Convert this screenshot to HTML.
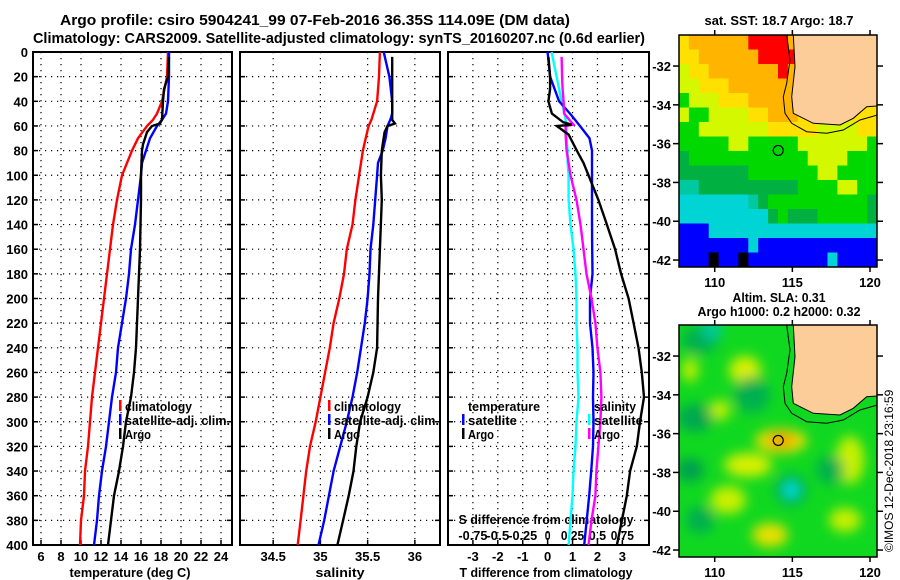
<!DOCTYPE html>
<html><head><meta charset="utf-8">
<style>
html,body{margin:0;padding:0;background:#fff;}
svg{display:block;font-family:"Liberation Sans",sans-serif;font-weight:bold;}
</style></head>
<body>
<svg id="fig" width="900" height="580" viewBox="0 0 900 580" xmlns="http://www.w3.org/2000/svg">
<defs><filter id="blur" x="-50%" y="-50%" width="200%" height="200%"><feGaussianBlur stdDeviation="6"/></filter>
<clipPath id="clipTop"><rect x="679" y="35" width="198" height="232"/></clipPath>
<clipPath id="clipBot"><rect x="679" y="325" width="198" height="232"/></clipPath></defs>
<text x="315" y="25" text-anchor="middle" font-size="15" textLength="510" lengthAdjust="spacingAndGlyphs">Argo profile: csiro 5904241_99 07-Feb-2016 36.35S 114.09E (DM data)</text>
<text x="339" y="43" text-anchor="middle" font-size="15" textLength="612" lengthAdjust="spacingAndGlyphs">Climatology: CARS2009. Satellite-adjusted climatology: synTS_20160207.nc (0.6d earlier)</text>
</svg>
<script>
// ---------- data ----------
const depthTicks = [0,20,40,60,80,100,120,140,160,180,200,220,240,260,280,300,320,340,360,380,400];
const tempTicks = [6,8,10,12,14,16,18,20,22,24];
const salTicks = [34.5,35,35.5,36];
const salTickLabels = ["34.5","35","35.5","36"];
const tdiffTicks = [-3,-2,-1,0,1,2,3];
const sdiffTickLabels = ["-0.75","-0.5","-0.25","0","0.25","0.5","0.75"];

const climDepth = [0,20,40,50,55,60,70,80,100,120,140,160,180,200,220,240,260,280,300,320,340,360,380,400];
const climT = [18.7,18.6,18.1,17.6,17.2,16.6,15.7,15.1,14.1,13.6,13.2,12.9,12.6,12.3,12.0,11.7,11.4,11.1,10.9,10.7,10.4,10.3,10.0,9.9];
const climS = [35.63,35.62,35.60,35.56,35.54,35.51,35.48,35.45,35.41,35.37,35.34,35.28,35.25,35.20,35.14,35.10,35.05,35.00,34.95,34.89,34.85,34.82,34.79,34.76];

const satDepth = [0,20,40,50,55,60,70,80,90,100,120,140,160,180,200,220,240,260,280,300,320,340,360,380,400];
const satT = [18.8,18.8,18.7,18.5,18.1,17.6,16.9,16.5,16.1,16.0,15.7,15.4,15.0,14.8,14.5,14.1,13.7,13.5,13.1,12.8,12.5,12.1,11.8,11.6,11.3];
const satS = [35.67,35.73,35.76,35.76,35.74,35.71,35.69,35.66,35.61,35.60,35.58,35.56,35.53,35.52,35.50,35.47,35.43,35.39,35.34,35.28,35.21,35.14,35.09,35.04,34.98];
const satTdiff = [0.0,0.1,0.46,0.9,1.1,1.3,1.68,1.78,1.78,1.78,1.78,1.78,1.79,1.8,1.7,1.7,1.8,1.84,1.82,1.84,1.82,1.75,1.67,1.57,1.47];
const satSdiff = [0.04,0.09,0.14,0.17,0.18,0.19,0.19,0.2,0.2,0.21,0.21,0.23,0.26,0.28,0.29,0.29,0.3,0.3,0.31,0.29,0.28,0.26,0.25,0.23,0.21];

const argoDepth = [4,20,30,40,55,58,60,65,75,80,100,120,160,200,240,260,280,300,320,340,360,380,400];
const argoT = [18.8,18.7,18.3,18.2,18.1,17.9,17.1,16.6,16.2,16.1,16.0,16.0,15.9,15.7,15.5,15.3,15.0,14.5,14.2,13.8,13.3,13.0,12.7];
const argoS = [35.76,35.76,35.76,35.76,35.76,35.79,35.71,35.68,35.66,35.65,35.64,35.65,35.63,35.61,35.60,35.56,35.50,35.42,35.38,35.35,35.30,35.24,35.18];

const argoDiffDepth = [4,20,30,40,50,57,59,60,67,80,90,100,120,140,160,180,200,220,240,260,280,300,320,340,360,380,400];
const argoTdiff = [0.03,0.1,0.1,0.03,0.17,0.63,0.97,0.37,0.84,1.17,1.44,1.64,2.04,2.38,2.71,2.95,3.25,3.45,3.65,3.78,3.87,3.71,3.58,3.31,3.18,2.98,2.78];
const argoSdiff = [0.14,0.145,0.15,0.16,0.165,0.24,0.26,0.18,0.18,0.19,0.21,0.23,0.29,0.33,0.36,0.39,0.44,0.48,0.5,0.53,0.54,0.53,0.51,0.49,0.48,0.44,0.41];

const latTicks = [-32,-34,-36,-38,-40,-42];
const lonTicks = [110,115,120];
const argoLon = 114.09, argoLat = -36.35;

// ---------- helpers ----------
const NS = "http://www.w3.org/2000/svg";
const svg = document.getElementById("fig");
function mk(tag, attrs, parent){
  const e = document.createElementNS(NS, tag);
  for (const k in attrs) e.setAttribute(k, attrs[k]);
  (parent||svg).appendChild(e);
  return e;
}
function txt(x,y,s,size,anchor,parent,len){
  const a = {x:x,y:y,"font-size":size,"text-anchor":anchor||"start"};
  if(len){ a.textLength = len; a.lengthAdjust = "spacingAndGlyphs"; }
  const t = mk("text",a,parent);
  t.textContent = s;
  return t;
}
const Y0 = 52, Y1 = 545;
function yD(d){ return Y0 + d*(Y1-Y0)/400; }

function panel(x0,x1,xmin,xmax,ticks,name){
  const xf = v => x0 + (v-xmin)*(x1-x0)/(xmax-xmin);
  const g = mk("g",{});
  
  
  ticks.forEach(v=>{
    const l = mk("line",{x1:xf(v),x2:xf(v),y1:Y0,y2:Y1,stroke:"#000","stroke-width":1.2,"stroke-dasharray":"1.2 4.8"},g);
    
    
    mk("line",{x1:xf(v),x2:xf(v),y1:Y1,y2:Y1-5,stroke:"#000","stroke-width":1.5},g);
  });
  depthTicks.forEach(d=>{
    const l = mk("line",{x1:x0,x2:x1,y1:yD(d),y2:yD(d),stroke:"#000","stroke-width":1.2,"stroke-dasharray":"1.2 4.8"},g);
    
    
    mk("line",{x1:x0,x2:x0+5,y1:yD(d),y2:yD(d),stroke:"#000","stroke-width":1.5},g);
    mk("line",{x1:x1,x2:x1-5,y1:yD(d),y2:yD(d),stroke:"#000","stroke-width":1.5},g);
  });
  const r = mk("rect",{x:x0,y:Y0,width:x1-x0,height:Y1-Y0,fill:"none",stroke:"#000","stroke-width":2},g);
  
  
  return xf;
}
function series(xf,depths,vals,color,name){
  const pts = depths.map((d,i)=> xf(vals[i]).toFixed(1)+","+yD(d).toFixed(1)).join(" ");
  const p = mk("polyline",{points:pts,fill:"none",stroke:color,"stroke-width":2.4,"stroke-linejoin":"miter"});
  
  
}
function legend(x,y,color,label,name,len){
  if(color){
    const m = mk("rect",{x:x-6,y:y-11,width:2.5,height:11,fill:color});
    
    
  }
  const t = txt(x,y,label,13,"start",null,len);
  
  
}

// ---------- panel 1: temperature ----------
const xT = panel(33,232,5.2,25.1,tempTicks,"temperature-panel");
depthTicks.forEach(d=>{
  const t = txt(28,yD(d)+5,String(d),13,"end");
  
  
});
tempTicks.forEach(v=>{
  const t = txt(xT(v),561,String(v),13,"middle");
  
  
});
{const t = txt(130,577,"temperature (deg C)",13,"middle",null,121);

}
series(xT,climDepth,climT,"#ff0000","temp-climatology-line");
series(xT,satDepth,satT,"#0000ff","temp-satellite-line");
series(xT,argoDepth,argoT,"#000000","temp-argo-line");
legend(125,411,"#ff0000","climatology","legend-climatology-temp",67);
legend(125,425,"#0000ff","satellite-adj. clim.","legend-satellite-temp",105);
legend(125,439,"#000000","Argo","legend-argo-temp",26);

// ---------- panel 2: salinity ----------
const xS = panel(240,440,34.149,36.266,salTicks,"salinity-panel");
salTicks.forEach((v,i)=>{
  const t = txt(xS(v),561,salTickLabels[i],13,"middle");
  
  
});
{const t = txt(340,577,"salinity",13,"middle",null,49);

}
series(xS,climDepth,climS,"#ff0000","sal-climatology-line");
series(xS,satDepth,satS,"#0000ff","sal-satellite-line");
series(xS,argoDepth,argoS,"#000000","sal-argo-line");
legend(334,411,"#ff0000","climatology","legend-climatology-sal",67);
legend(334,425,"#0000ff","satellite-adj. clim.","legend-satellite-sal",105);
legend(334,439,"#000000","Argo","legend-argo-sal",26);

// ---------- panel 3: differences ----------
const xD = panel(448,649,-4.0,4.07,tdiffTicks,"difference-panel");
const xSD = v => xD(v*4);
tdiffTicks.forEach(v=>{
  const t = txt(xD(v),561,String(v),13,"middle");
  
  
});
sdiffTickLabels.forEach((s,i)=>{
  const t = txt(xD(tdiffTicks[i]),540,s,13,"middle",null,s.length*5.8);
  
  
});
{const t = txt(546,524,"S difference from climatology",13,"middle",null,175);

}
{const t = txt(546,577,"T difference from climatology",13,"middle",null,173);

}
series(xSD,satDepth,satSdiff,"#00ffff","sal-diff-satellite-line");
series(xD,satDepth,satTdiff,"#0000ff","temp-diff-satellite-line");
series(xSD,argoDiffDepth,argoSdiff,"#ff00ff","sal-diff-argo-line");
series(xD,argoDiffDepth,argoTdiff,"#000000","temp-diff-argo-line");
legend(468,411,null,"temperature","legend-temperature-header",72);
legend(468,425,"#0000ff","satellite","legend-temp-diff-satellite",49);
legend(468,439,"#000000","Argo","legend-temp-diff-argo",26);
legend(594,411,null,"salinity","legend-salinity-header",42);
legend(594,425,"#00ffff","satellite","legend-sal-diff-satellite",49);
legend(594,439,"#ff00ff","Argo","legend-sal-diff-argo",26);

// ---------- maps ----------
const MX0=679, MX1=877, LON0=107.7, LON1=120.45, LAT0=-30.4, PXLAT=19.4;
function mx(lon){ return MX0 + (lon-LON0)*(MX1-MX0)/(LON1-LON0); }
function my(lat,top){ return top + (LAT0-lat)*PXLAT; }
const sstRows = [
"YOOOOOORRRROOOOOOOOO",
"YYOOOOOORRRROOOOOOOO",
"LYYOOOOOOOROOOOOOOOO",
"LLYYYOOOOOOOYOOOOOOO",
"GLLLYYYOOOOOYYYYYYYY",
"LGGLLLLYYOOOYLLYYYYY",
"GGLLLLLLLYYYYYLLLLYY",
"GGGGGLLGGGGGLLLLLLLG",
"DGGGGGGGGGGGGLLLLGGG",
"DDDDDDDGGGGGGGLLGGGG",
"TTDDDDDDDDDDGGGGLLGG",
"CCCCCCCTDGGGGGGGGGGD",
"CCCCCCCCCDGDDDGGGGGD",
"BBBCCCCCCCCCCCCCCCCC",
"BBBBBBBCBBBBBBBBBBBB",
"BBBKBBKBBBBBBBBCBBBB"];
const pal = {O:"#ffb400",Y:"#ffe000",L:"#d4f800",G:"#00d800",D:"#00b040",T:"#00c8a0",C:"#00d4d4",B:"#0000ff",R:"#ff0000",K:"#000000"};
const landPts = [[793.3,0],[795,31.7],[791.7,61.7],[793.3,78.3],[813.3,88.3],[840,90],[853.3,83.3],[866.7,71.7],[877.3,71],[877.3,0]];
const contourPts = [[786.7,0],[790,25],[786.7,48.3],[783.3,61.7],[785,78.3],[791.7,88.3],[806.7,96.7],[826.7,98.3],[843.3,95],[860,85],[877.3,80]];

function mapFrame(top,name){
  const g = mk("g",{});
  
  
  return g;
}
function mapAxes(top,g){
  mk("rect",{x:MX0,y:top,width:MX1-MX0,height:232,fill:"none",stroke:"#000","stroke-width":1.5},g);
  latTicks.forEach(l=>{
    const y = my(l,top);
    mk("line",{x1:MX0-6,x2:MX0,y1:y,y2:y,stroke:"#000","stroke-width":1.5},g);
    mk("line",{x1:MX1,x2:MX1+6,y1:y,y2:y,stroke:"#000","stroke-width":1.5},g);
    const t = txt(MX0-8,y+5,String(l),13,"end",g);
    
    
  });
  lonTicks.forEach(l=>{
    const x = mx(l);
    mk("line",{x1:x,x2:x,y1:top-5,y2:top,stroke:"#000","stroke-width":1.5},g);
    mk("line",{x1:x,x2:x,y1:top+232,y2:top+237,stroke:"#000","stroke-width":1.5},g);
    const t = txt(x,top+252,String(l),13,"middle",g);
    
    
  });
}
function land(top,g){
  const lp = mk("polygon",{points:landPts.map(p=>p[0]+","+(p[1]+top)).join(" "),fill:"#fccc99",stroke:"#000","stroke-width":1},g);
  
  
  const cp = mk("polyline",{points:contourPts.map(p=>p[0]+","+(p[1]+top)).join(" "),fill:"none",stroke:"#000","stroke-width":1},g);
  
  
}
function marker(top,g){
  const c = mk("circle",{cx:mx(argoLon),cy:my(argoLat,top),r:5,fill:"none",stroke:"#000","stroke-width":1.2},g);
  
  
}

// top SST map
const gT = mapFrame(35,"sst-map");
const gTc = mk("g",{"clip-path":"url(#clipTop)"},gT);
const cw = (MX1-MX0)/20, ch = 232/16;
sstRows.forEach((row,r)=>{
  for(let c=0;c<row.length;c++){
    mk("rect",{x:MX0+c*cw,y:35+r*ch,width:cw+0.6,height:ch+0.6,fill:pal[row[c]]},gTc);
  }
});
land(35,gTc);
marker(35,gTc);
mapAxes(35,gT);
{const t = txt(779,25,"sat. SST: 18.7 Argo: 18.7",13,"middle",null,149);

}

// bottom SLA map
const gB = mapFrame(325,"sla-map");
const gBc = mk("g",{"clip-path":"url(#clipBot)"},gB);
mk("rect",{x:MX0,y:325,width:198,height:232,fill:"#10d820"},gBc);
const blobs = [
 [700,340,18,14,"#00b050"],[712,330,10,10,"#00c8a0"],[745,370,16,14,"#d8f000"],[750,395,8,9,"#00e0d0"],
 [752,395,18,18,"#00b050"],[695,418,18,14,"#00a850"],[781,441,26,12,"#f0e000"],[781,440,14,8,"#f0a000"],
 [748,465,24,12,"#d8f000"],[791,490,16,16,"#00b050"],[791,490,8,8,"#00e0e0"],[690,470,14,12,"#00a050"],
 [728,500,18,14,"#c8f000"],[770,535,18,12,"#e8e000"],[850,460,14,24,"#c8f000"],[830,470,14,14,"#00b050"],
 [700,520,14,14,"#00b050"],[845,520,16,12,"#c8f000"],[720,410,10,10,"#c8f000"],[690,370,8,12,"#c8f000"]
];
const gBl = mk("g",{filter:"url(#blur)"},gBc);
blobs.forEach(b=>{ mk("ellipse",{cx:b[0],cy:b[1],rx:b[2],ry:b[3],fill:b[4]},gBl); });
land(325,gBc);
marker(325,gBc);
mapAxes(325,gB);
{const t = txt(779,302,"Altim. SLA: 0.31",13,"middle",null,93);

}
{const t = txt(779,316,"Argo h1000: 0.2 h2000: 0.32",13,"middle",null,163);

}

// copyright
{const t = txt(0,0,"©IMOS 12-Dec-2018 23:16:59",12,"start");
t.setAttribute("transform","translate(893,552) rotate(-90)");
t.setAttribute("font-weight","normal");

}
</script>
</body></html>
